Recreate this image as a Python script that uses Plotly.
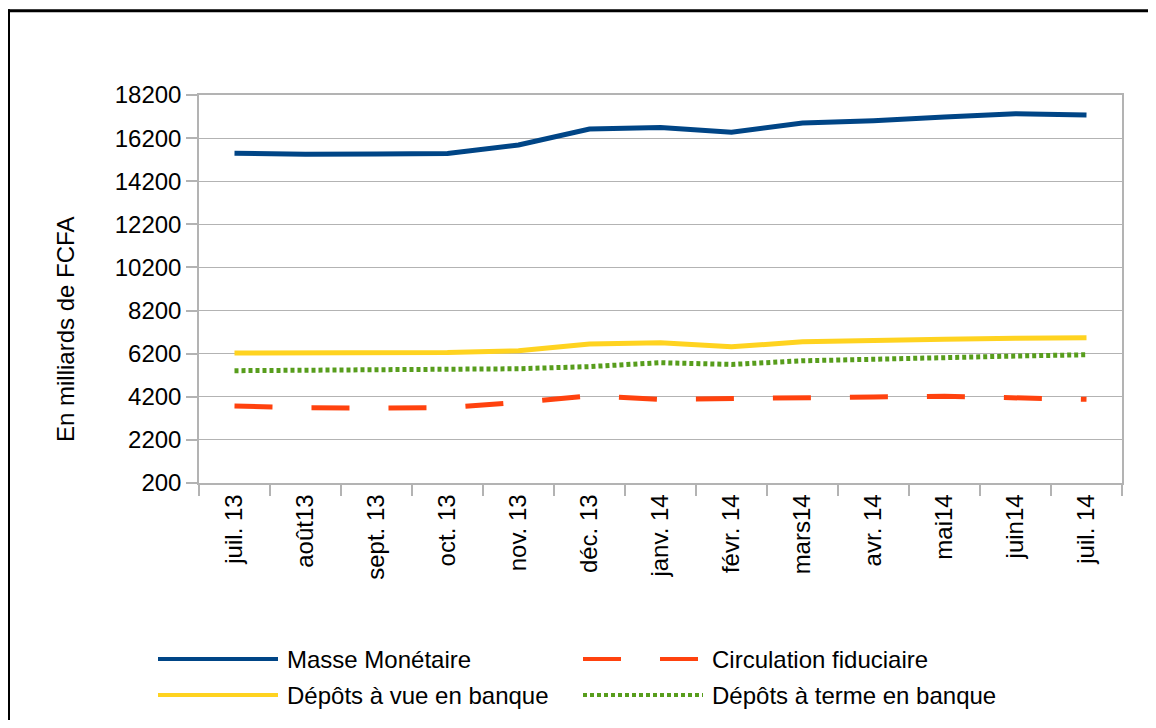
import plotly.graph_objects as go

months = ["juil. 13", "août13", "sept. 13", "oct. 13", "nov. 13", "déc. 13", "janv. 14",
          "févr. 14", "mars14", "avr. 14", "mai14", "juin14", "juil. 14"]

masse_monetaire = [15500, 15450, 15460, 15490, 15880, 16620, 16690, 16470, 16900, 17010, 17180, 17330, 17270]
circulation_fiduciaire = [3770, 3690, 3680, 3700, 3940, 4240, 4080, 4130, 4140, 4190, 4220, 4140, 4080]
depots_vue = [6230, 6230, 6240, 6250, 6340, 6650, 6710, 6520, 6750, 6830, 6870, 6910, 6940]
depots_terme = [5410, 5430, 5440, 5460, 5500, 5600, 5780, 5700, 5870, 5940, 6030, 6090, 6150]

y_ticks = list(range(200, 18201, 2000))

series = [
    ("Masse Monétaire", masse_monetaire, "#004586", "solid"),
    ("Circulation fiduciaire", circulation_fiduciaire, "#ff420e", "38px,39px"),
    ("Dépôts à vue en banque", depots_vue, "#ffd320", "solid"),
    ("Dépôts à terme en banque", depots_terme, "#579d1c", "4px,3px"),
]

# the page places the figure 8px from each edge (body margin); keep it inside the window
OFF = 8
W, H = 1156 - 2 * OFF, 728 - 2 * OFF
L, T = 199 - OFF, 95 - OFF
R = (1156 - OFF) - 1122
B = (728 - OFF) - 483
PW, PH = W - L - R, H - T - B


def px(x):
    # x given in page pixels
    return (x - OFF - L) / PW


def py(y):
    return 1 - (y - OFF - T) / PH


fig = go.Figure()
for name, vals, color, dash in series:
    fig.add_trace(go.Scatter(
        x=months, y=vals, mode="lines", name=name,
        line=dict(color=color, width=5, dash=dash),
        showlegend=False,
    ))

font = "Liberation Sans, Arial, sans-serif"
grid = "#b3b3b3"

shapes = []
annotations = []
# custom legend
legend_pos = [(158, 659), (583, 659), (158, 695), (583, 695)]
for (name, vals, color, dash), (lx, ly) in zip(series, legend_pos):
    shapes.append(dict(type="line", xref="paper", yref="paper",
                       x0=px(lx), x1=px(lx + 120), y0=py(ly), y1=py(ly),
                       line=dict(color=color, width=4, dash=dash)))
    annotations.append(dict(xref="paper", yref="paper", x=px(lx + 127), y=py(ly),
                            xanchor="left", yanchor="middle", text=name, showarrow=False,
                            font=dict(family=font, size=24, color="#000000")))

# outer frame: only the left and top edges are visible in the picture
shapes.append(dict(type="line", xref="paper", yref="paper",
                   x0=px(8.5), x1=px(8.5), y0=py(9.2), y1=py(760),
                   line=dict(color="#000000", width=3), layer="above"))
shapes.append(dict(type="line", xref="paper", yref="paper",
                   x0=px(7), x1=px(1170), y0=py(10.7), y1=py(10.7),
                   line=dict(color="#000000", width=3), layer="above"))

# y-axis title
annotations.append(dict(xref="paper", yref="paper", x=px(65), y=py(330),
                        xanchor="center", yanchor="middle", textangle=-90,
                        text="En milliards de FCFA", showarrow=False,
                        font=dict(family=font, size=24, color="#000000")))

fig.update_layout(
    width=W, height=H,
    margin=dict(l=L, r=R, t=T, b=B),
    paper_bgcolor="#ffffff", plot_bgcolor="#ffffff",
    font=dict(family=font, size=24, color="#000000"),
    shapes=shapes, annotations=annotations,
    showlegend=False,
)
fig.update_xaxes(
    type="category", range=[-0.5, 12.5],
    showgrid=False, showline=True, mirror=True, linecolor=grid, linewidth=1.5,
    ticks="outside", tickson="boundaries", ticklen=11, tickcolor=grid, tickwidth=1.5,
    tickangle=-90, tickfont=dict(family=font, size=24, color="#000000"),
)
fig.update_yaxes(
    range=[200, 18200], tickvals=y_ticks, ticktext=[str(v) for v in y_ticks],
    showgrid=True, gridcolor=grid, gridwidth=1,
    showline=True, mirror=True, linecolor=grid, linewidth=1.5,
    ticks="outside", ticklen=11, tickcolor=grid, tickwidth=1.5,
    tickfont=dict(family=font, size=24, color="#000000"),
    zeroline=False,
)

fig.write_html("out.html")
